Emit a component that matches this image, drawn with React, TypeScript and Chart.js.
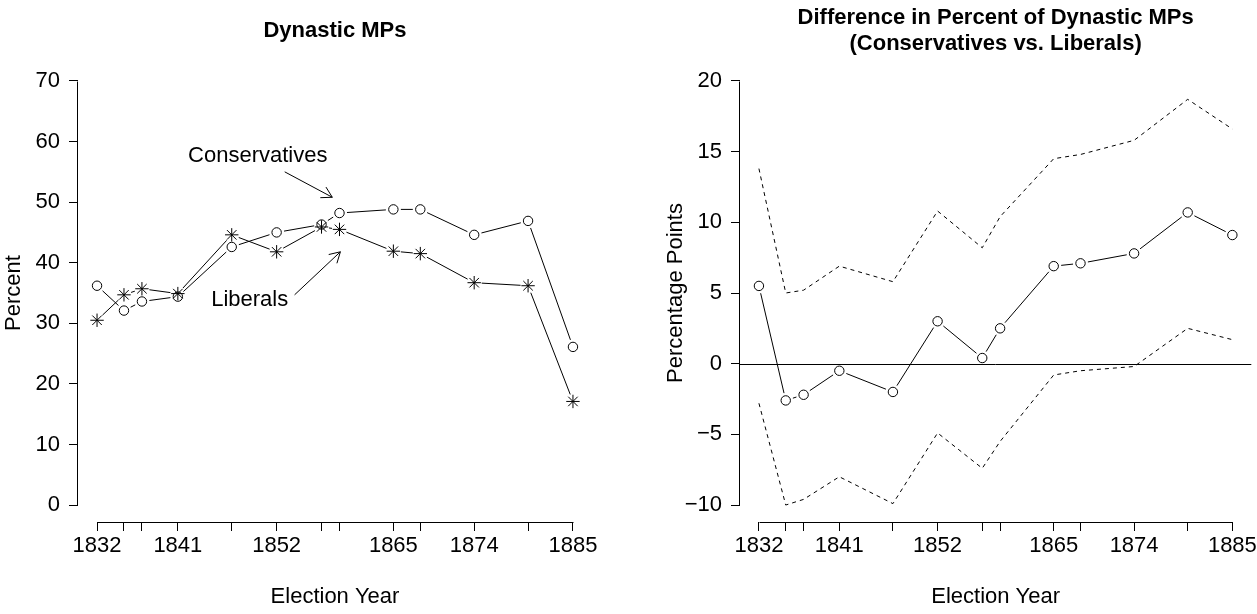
import React, { useEffect, useRef } from "react";
import { Chart, registerables } from "chart.js";

Chart.register(...registerables);

// ---------- data ----------
const years = [1832, 1835, 1837, 1841, 1847, 1852, 1857, 1859, 1865, 1868, 1874, 1880, 1885];
const labeledYears = [1832, 1841, 1852, 1865, 1874, 1885];
const conservatives = [36.2, 32.1, 33.6, 34.4, 42.6, 45.0, 46.3, 48.2, 48.8, 48.8, 44.6, 46.9, 26.1];
const liberals = [30.5, 34.7, 35.7, 34.9, 44.6, 41.8, 45.9, 45.5, 41.9, 41.5, 36.7, 36.2, 17.1];
const difference = [5.5, -2.6, -2.2, -0.5, -2.0, 3.0, 0.4, 2.5, 6.9, 7.1, 7.8, 10.7, 9.1];
const upperCI = [13.8, 5.0, 5.2, 6.9, 5.8, 10.8, 8.2, 10.4, 14.5, 14.8, 15.8, 18.7, 16.6];
const lowerCI = [-2.8, -10.0, -9.6, -8.0, -9.9, -4.9, -7.4, -5.5, -0.8, -0.5, -0.2, 2.5, 1.7];
const leftYTicks = [0, 10, 20, 30, 40, 50, 60, 70];
const rightYTicks = [-10, -5, 0, 5, 10, 15, 20];

const FONT = "'Liberation Sans', Arial, Helvetica, sans-serif";
const FS = 22;

// annotation placement (data coordinates)
const annotations = [
  { text: "Conservatives", tx: 1849.9, ty: 57.7, from: [1852.9, 55.0], to: [1858.2, 50.8] },
  { text: "Liberals", tx: 1849.0, ty: 33.8, from: [1854.0, 34.7], to: [1859.1, 41.8] },
];

const pts = (ys: number[]) => years.map((x, i) => ({ x, y: ys[i] }));

// lines with gaps around points (R type = "b")
const gapLinePlugin = {
  id: "gapLine",
  beforeDatasetsDraw(chart: any) {
    const ctx = chart.ctx;
    chart.data.datasets.forEach((ds: any, i: number) => {
      if (ds.gap == null) return;
      const p = chart.getDatasetMeta(i).data;
      const g = ds.gap;
      ctx.save();
      ctx.strokeStyle = "#000";
      ctx.lineWidth = 1;
      ctx.setLineDash([]);
      for (let k = 0; k < p.length - 1; k++) {
        const a = p[k], b = p[k + 1];
        const dx = b.x - a.x, dy = b.y - a.y;
        const L = Math.hypot(dx, dy);
        if (L <= 2 * g) continue;
        const ux = dx / L, uy = dy / L;
        ctx.beginPath();
        ctx.moveTo(a.x + ux * g, a.y + uy * g);
        ctx.lineTo(b.x - ux * g, b.y - uy * g);
        ctx.stroke();
      }
      ctx.restore();
    });
  },
};

// axis lines spanning first..last tick, title, extras
const decorPlugin = {
  id: "decor",
  afterDraw(chart: any, _args: any, opts: any) {
    const ctx = chart.ctx;
    const xs = chart.scales.x, ys = chart.scales.y;
    const ca = chart.chartArea;
    ctx.save();
    ctx.strokeStyle = "#000";
    ctx.lineWidth = 1;
    ctx.setLineDash([]);
    // x axis line
    const xt = xs.ticks;
    const x0 = Math.round(xs.getPixelForValue(xt[0].value)) + 0.5;
    const x1 = Math.round(xs.getPixelForValue(xt[xt.length - 1].value)) + 0.5;
    const yb = Math.round(ca.bottom) + 0.5;
    ctx.beginPath();
    ctx.moveTo(x0, yb);
    ctx.lineTo(x1, yb);
    ctx.stroke();
    // y axis line
    const yt = ys.ticks;
    const y0 = Math.round(ys.getPixelForValue(yt[0].value)) + 0.5;
    const y1 = Math.round(ys.getPixelForValue(yt[yt.length - 1].value)) + 0.5;
    const xl = Math.round(ca.left) - 0.5;
    ctx.beginPath();
    ctx.moveTo(xl, y0);
    ctx.lineTo(xl, y1);
    ctx.stroke();
    // zero reference line
    if (opts.zeroLine) {
      const yz = Math.round(ys.getPixelForValue(0)) + 0.5;
      ctx.beginPath();
      ctx.moveTo(ca.left, yz);
      ctx.lineTo(ca.right, yz);
      ctx.stroke();
    }
    // title
    ctx.fillStyle = "#000";
    ctx.textAlign = "center";
    ctx.textBaseline = "middle";
    ctx.font = `bold ${opts.titleSize}px ${FONT}`;
    const cx = (ca.left + ca.right) / 2;
    (opts.title as string[]).forEach((t, i) => {
      ctx.fillText(t, cx, opts.titleY[i]);
    });
    // annotations
    ctx.font = `${FS}px ${FONT}`;
    (opts.annotations || []).forEach((a: any) => {
      ctx.fillText(a.text, xs.getPixelForValue(a.tx), ys.getPixelForValue(a.ty));
      const fx = xs.getPixelForValue(a.from[0]), fy = ys.getPixelForValue(a.from[1]);
      const tx = xs.getPixelForValue(a.to[0]), ty = ys.getPixelForValue(a.to[1]);
      ctx.beginPath();
      ctx.moveTo(fx, fy);
      ctx.lineTo(tx, ty);
      const ang = Math.atan2(ty - fy, tx - fx);
      const hl = 12, ha = Math.PI / 6;
      ctx.moveTo(tx - hl * Math.cos(ang - ha), ty - hl * Math.sin(ang - ha));
      ctx.lineTo(tx, ty);
      ctx.lineTo(tx - hl * Math.cos(ang + ha), ty - hl * Math.sin(ang + ha));
      ctx.stroke();
    });
    ctx.restore();
  },
};

function makeScales(yTicks: number[], yMin: number, yMax: number, yTitle: string) {
  const font = { family: FONT, size: FS };
  return {
    x: {
      type: "linear",
      min: 1832 - 0.04 * 53,
      max: 1885 + 0.04 * 53,
      afterBuildTicks: (s: any) => {
        s.ticks = years.map((v) => ({ value: v }));
      },
      afterFit: (s: any) => {
        s.height = 92;
        s.paddingLeft = 0;
        s.paddingRight = 0;
      },
      grid: { drawOnChartArea: false, drawTicks: true, tickLength: 9, color: "#000", lineWidth: 1 },
      border: { display: false },
      ticks: {
        autoSkip: false,
        maxRotation: 0,
        minRotation: 0,
        padding: 2,
        color: "#000",
        font,
        callback: (v: any) => (labeledYears.includes(Number(v)) ? String(v) : ""),
      },
      title: { display: true, text: "Election Year", color: "#000", font, padding: { top: 0, bottom: 4 } },
    },
    y: {
      type: "linear",
      min: yMin,
      max: yMax,
      afterBuildTicks: (s: any) => {
        s.ticks = yTicks.map((v) => ({ value: v }));
      },
      afterFit: (s: any) => {
        s.width = 78;
        s.paddingTop = 0;
        s.paddingBottom = 0;
      },
      grid: { drawOnChartArea: false, drawTicks: true, tickLength: 9, color: "#000", lineWidth: 1 },
      border: { display: false },
      ticks: {
        autoSkip: false,
        padding: 9,
        color: "#000",
        font,
        callback: (v: any) => (Number(v) < 0 ? "\u2212" + Math.abs(Number(v)) : String(v)),
      },
      title: { display: true, text: yTitle, color: "#000", font, padding: { top: 1, bottom: 0 } },
    },
  };
}

function Panel({ left, width, config }: { left: number; width: number; config: () => any }) {
  const ref = useRef<HTMLCanvasElement>(null);
  useEffect(() => {
    const chart = new Chart(ref.current as HTMLCanvasElement, config());
    return () => chart.destroy();
  }, []);
  return (
    <canvas
      ref={ref}
      width={width}
      height={614}
      style={{ position: "absolute", left, top: 0, width, height: 614 }}
    />
  );
}

const circleStyle = {
  showLine: false,
  gap: 7.5,
  pointStyle: "circle",
  pointRadius: 4.7,
  pointBorderWidth: 1,
  pointBorderColor: "#000",
  pointBackgroundColor: "rgba(0,0,0,0)",
};

const leftConfig = () => ({
  type: "line",
  data: {
    datasets: [
      { label: "Conservatives", data: pts(conservatives), ...circleStyle },
      {
        label: "Liberals",
        data: pts(liberals),
        showLine: false,
        gap: 7.5,
        pointStyle: "star",
        pointRadius: 6.7,
        pointBorderWidth: 1,
        pointBorderColor: "#000",
        pointBackgroundColor: "rgba(0,0,0,0)",
      },
    ],
  },
  options: {
    animation: false,
    responsive: false,
    events: [],
    clip: false,
    layout: { padding: { top: 64, left: 0, right: 640 - 592, bottom: 0 } },
    plugins: {
      legend: { display: false },
      tooltip: { enabled: false },
      decor: { title: ["Dynastic MPs"], titleY: [31], titleSize: 22, annotations },
    },
    scales: makeScales(leftYTicks, 0 - 0.04 * 70, 70 + 0.04 * 70, "Percent"),
  },
  plugins: [gapLinePlugin, decorPlugin],
});

const rightConfig = () => ({
  type: "line",
  data: {
    datasets: [
      { label: "Difference", data: pts(difference), ...circleStyle },
      {
        label: "Upper",
        data: pts(upperCI),
        showLine: true,
        borderColor: "#000",
        borderWidth: 1,
        borderDash: [4, 4],
        pointRadius: 0,
        tension: 0,
      },
      {
        label: "Lower",
        data: pts(lowerCI),
        showLine: true,
        borderColor: "#000",
        borderWidth: 1,
        borderDash: [4, 4],
        pointRadius: 0,
        tension: 0,
      },
    ],
  },
  options: {
    animation: false,
    responsive: false,
    events: [],
    clip: false,
    layout: { padding: { top: 64, left: 0, right: 3, bottom: 0 } },
    plugins: {
      legend: { display: false },
      tooltip: { enabled: false },
      decor: {
        title: ["Difference in Percent of Dynastic MPs", "(Conservatives vs. Liberals)"],
        titleY: [18, 44],
        titleSize: 22,
        zeroLine: true,
      },
    },
    scales: makeScales(rightYTicks, -10 - 0.04 * 30, 20 + 0.04 * 30, "Percentage Points"),
  },
  plugins: [gapLinePlugin, decorPlugin],
});

export default function App() {
  return (
    <div style={{ position: "absolute", left: 0, top: 0, width: 1257, height: 614, background: "#fff", overflow: "hidden" }}>
      <Panel left={0} width={640} config={leftConfig} />
      <Panel left={662} width={595} config={rightConfig} />
    </div>
  );
}
